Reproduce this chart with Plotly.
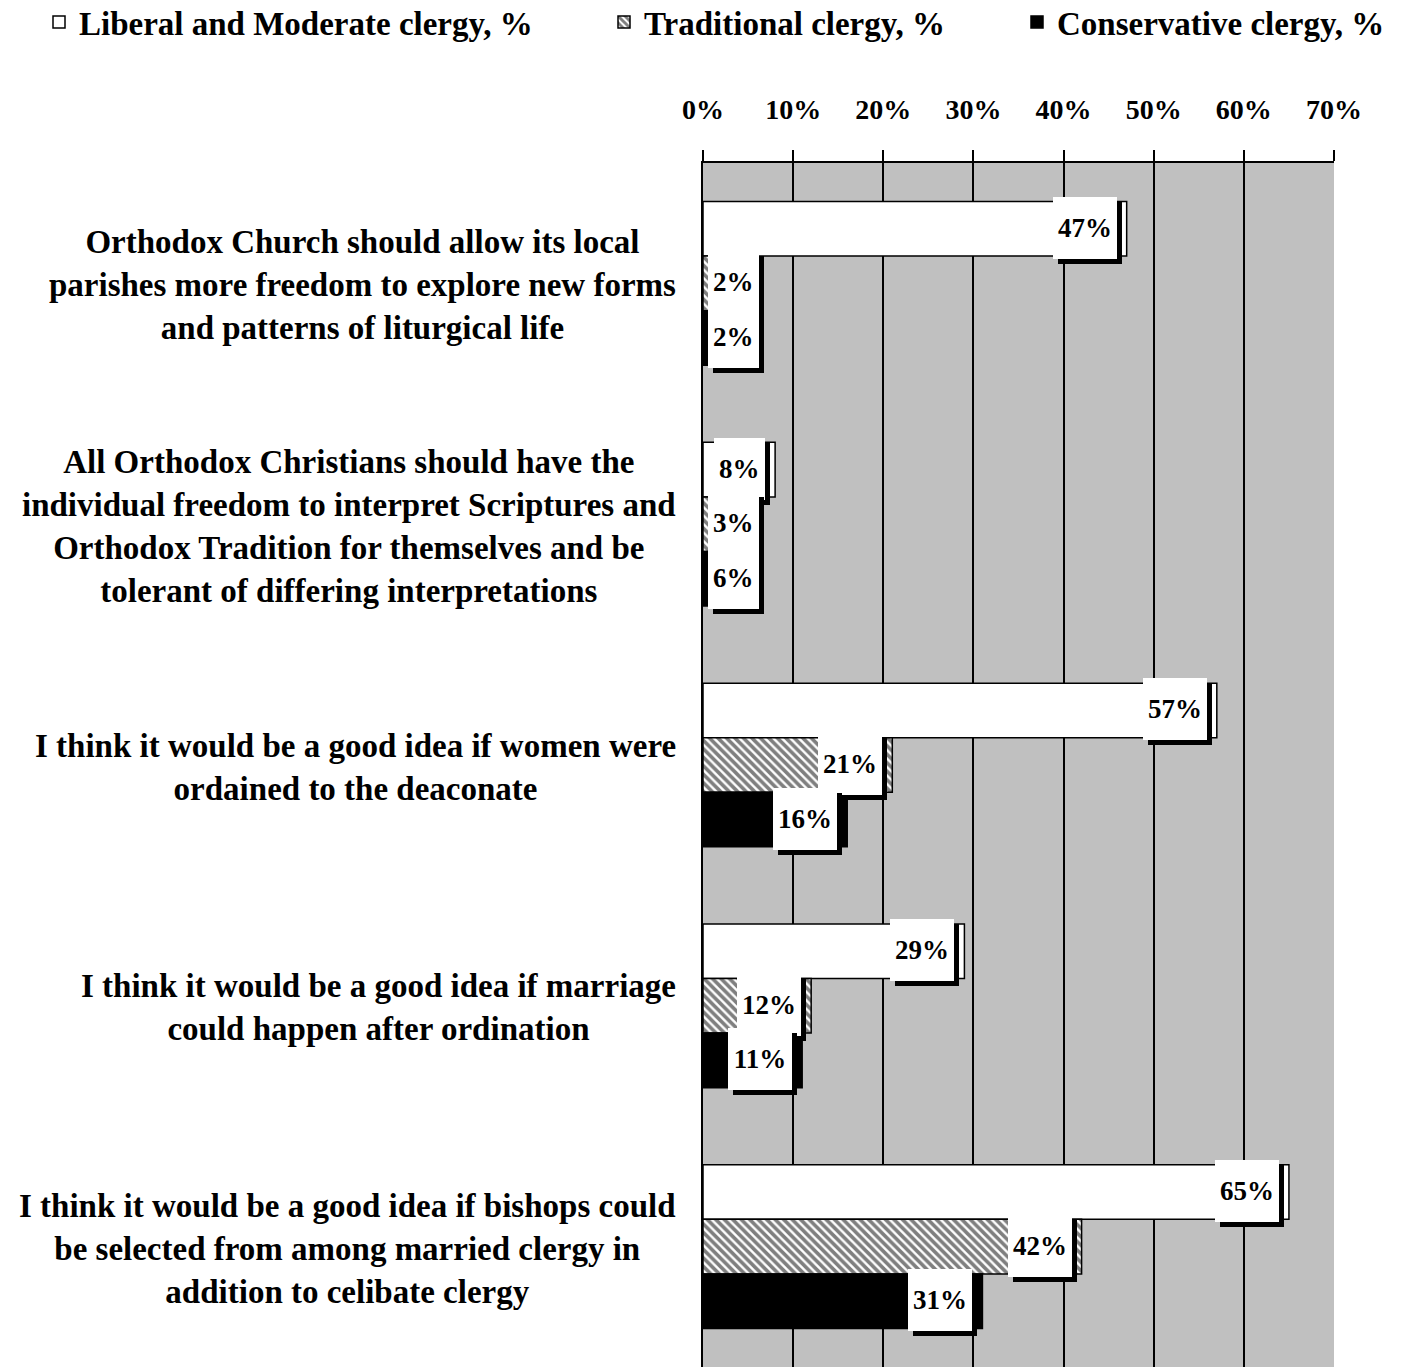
import plotly.graph_objects as go

# ---------------- data ----------------
categories = [
    "Orthodox Church should allow its local<br>parishes more freedom to explore new forms<br>and patterns of liturgical life",
    "All Orthodox Christians should have the<br>individual freedom to interpret Scriptures and<br>Orthodox Tradition for themselves and be<br>tolerant of differing interpretations",
    "I think it would be a good idea if women were<br>ordained to the deaconate",
    "I think it would be a good idea if marriage<br>could happen after ordination",
    "I think it would be a good idea if bishops could<br>be selected from among married clergy in<br>addition to celibate clergy",
]
series_names = ["Liberal and Moderate clergy, %", "Traditional clergy, %", "Conservative clergy, %"]
liberal = [47, 8, 57, 29, 65]
traditional = [2, 3, 21, 12, 42]
conservative = [2, 6, 16, 11, 31]
x_ticks = [0, 10, 20, 30, 40, 50, 60, 70]
x_tick_labels = [f"{v}%" for v in x_ticks]

# ---------------- layout constants ----------------
W, H = 1406, 1367
ML, MR, MT, MB = 703, 72, 163, 0
FONT = "Liberation Serif, Times New Roman, serif"
GRAY = "#c0c0c0"
BARGAP = 0.32
XMAX = 70
LABEL_FS = 27
LEGEND_LEFT_PX = [39, 604, 1017]

plot_w = W - ML - MR
plot_h = H - MT - MB
px_per_unit = plot_w / XMAX
bar_w = (1 - BARGAP) / 3
ypos = list(range(len(categories)))

fig = go.Figure()

styles = [
    dict(color="white", line=dict(color="black", width=1.5)),
    dict(color="white", line=dict(color="black", width=1.5),
         pattern=dict(shape="\\", fgcolor="black", bgcolor="white", size=6, solidity=0.6)),
    dict(color="black", line=dict(color="black", width=1.5)),
]
all_series = [liberal, traditional, conservative]
legend_ids = ["legend", "legend2", "legend3"]
for name, vals, st, lg in zip(series_names, all_series, styles, legend_ids):
    fig.add_trace(go.Bar(
        x=vals, y=ypos, orientation="h", name=name, legend=lg,
        marker=st, hovertemplate="%{x}%<extra>" + name + "</extra>",
    ))

annotations = []

# category labels
for i, cat in enumerate(categories):
    annotations.append(dict(
        text=cat, xref="paper", x=0, xshift=-26, xanchor="right",
        yref="y", y=i, yanchor="middle", yshift=-2, align="center",
        showarrow=False, borderpad=0,
        font=dict(family=FONT, size=33, color="black", weight=700),
    ))

# data labels (white box with black drop shadow)
for s, vals in enumerate(all_series):
    for i, v in enumerate(vals):
        txt = f"{v}%"
        text_w = LABEL_FS * (0.5 * len(str(v)) + 1.0) + 2
        box_w = text_w + 8
        right_px = v * px_per_unit - 10
        if right_px - box_w < 5:
            xa, xv, xs = "left", 0, 5
        else:
            xa, xv, xs = "right", v, -10
        yv = i + (s - 1) * bar_w
        for shadow in (True, False):
            annotations.append(dict(
                text="\u00a0" if shadow else txt,
                xref="x", x=xv, xanchor=xa,
                xshift=xs + (5 if shadow else 0),
                yref="y", y=yv, yanchor="middle",
                yshift=1 + (-5 if shadow else 0),
                showarrow=False, width=text_w, height=54,
                borderpad=4, borderwidth=0,
                bgcolor="black" if shadow else "white",
                font=dict(family=FONT, size=LABEL_FS,
                          color="black", weight=700),
            ))

legend_common = dict(
    orientation="h", xanchor="left", yanchor="top",
    y=1 + (MT + 6) / plot_h,
    font=dict(family=FONT, size=33, color="black", weight=700),
    bgcolor="rgba(0,0,0,0)",
)

fig.update_layout(
    width=W, height=H,
    margin=dict(l=ML, r=MR, t=MT, b=MB, autoexpand=False),
    paper_bgcolor="white", plot_bgcolor=GRAY,
    barmode="group", bargap=BARGAP, bargroupgap=0,
    font=dict(family=FONT, color="black"),
    showlegend=True,
    legend=dict(legend_common, x=(LEGEND_LEFT_PX[0] - ML) / plot_w),
    legend2=dict(legend_common, x=(LEGEND_LEFT_PX[1] - ML) / plot_w),
    legend3=dict(legend_common, x=(LEGEND_LEFT_PX[2] - ML) / plot_w),
    annotations=annotations,
    xaxis=dict(
        side="top", range=[0, XMAX], tickvals=x_ticks, ticktext=x_tick_labels,
        showgrid=True, gridcolor="black", gridwidth=2,
        ticks="outside", ticklen=11, tickwidth=2, tickcolor="black",
        showline=True, linecolor="black", linewidth=2,
        zeroline=False, ticklabelstandoff=20,
        tickfont=dict(family=FONT, size=28, color="black", weight=700),
        fixedrange=True,
    ),
    yaxis=dict(
        range=[len(categories) - 0.5, -0.5], showticklabels=False,
        showgrid=False, zeroline=False, ticks="",
        showline=True, linecolor="black", linewidth=2, fixedrange=True,
    ),
)

fig.write_html("out.html")
